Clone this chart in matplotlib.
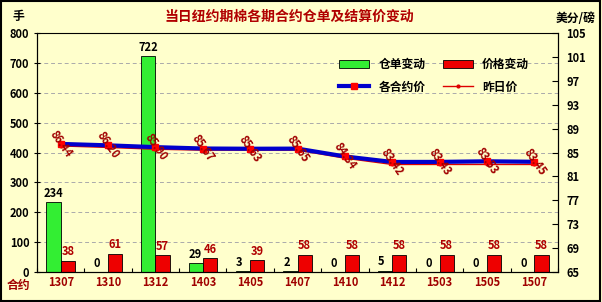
import matplotlib
matplotlib.use("Agg")
from matplotlib import pyplot as plt
import numpy as np

plt.rcParams['font.family'] = ['Noto Sans CJK SC', 'DejaVu Sans']
plt.rcParams['font.weight'] = 'bold'

# data
contracts = ['1307', '1310', '1312', '1403', '1405', '1407', '1410', '1412', '1503', '1505', '1507']
warrant_chg = [234, 0, 722, 29, 3, 2, 0, 5, 0, 0, 0]
price_chg = [38, 61, 57, 46, 39, 58, 58, 58, 58, 58, 58]
price_today = [86.44, 86.20, 85.90, 85.67, 85.63, 85.65, 84.34, 83.42, 83.43, 83.53, 83.45]
price_yday = [86.10, 85.85, 85.55, 85.40, 85.40, 85.40, 84.05, 83.00, 83.00, 83.00, 83.00]

bg = '#FFFFCC'
fig = plt.figure(figsize=(6.02, 3.02), dpi=100, facecolor=bg)
fig.patches.append(plt.Rectangle((0.002, 0.003), 0.995, 0.993, transform=fig.transFigure,
                                 fill=False, edgecolor='black', linewidth=1.5))
ax = fig.add_axes([0.0615, 0.0993, 0.8655, 0.7914], facecolor=bg)

x = np.arange(len(contracts))
w = 0.3
ax.bar(x - w/2, warrant_chg, w, color='#33EE33', edgecolor='black', linewidth=0.6, label='仓单变动', zorder=2)
ax.bar(x + w/2, price_chg, w, color='#EE0000', edgecolor='black', linewidth=0.6, label='价格变动', zorder=2)

for i in range(len(x)):
    ax.text(x[i] - w/2 - (0.08 if warrant_chg[i] < 10 else 0), warrant_chg[i] + 8, str(warrant_chg[i]),
            ha='center', va='bottom', fontsize=8, color='black', fontweight='bold')
    ax.text(x[i] + w/2, price_chg[i] + 8, str(price_chg[i]),
            ha='center', va='bottom', fontsize=8, color='#B00000', fontweight='bold')

ax.set_xlim(-0.5, len(x) - 0.5)
ax.set_ylim(0, 800)
ax.set_yticks(range(0, 801, 100))
ax.yaxis.grid(True, linestyle=(0, (4, 3)), color='#AAAAAA', linewidth=0.7)
ax.set_axisbelow(True)
ax.set_xticks(np.arange(-0.5, len(x), 1.0))
ax.set_xticklabels([])
ax.tick_params(axis='x', direction='in', length=3)
ax.tick_params(axis='y', direction='inout', length=5, labelsize=8, pad=3)
for lab in ax.get_yticklabels():
    lab.set_fontweight('bold')
for i, c in enumerate(contracts):
    ax.text(x[i], -14, c, transform=ax.transData, ha='center', va='top', fontsize=8,
            color='#A00000', fontweight='bold')
ax.spines['top'].set_color('#888888')
ax.spines['top'].set_linewidth(0.6)

ax2 = ax.twinx()
ax2.plot(x, price_yday, color='#DD0000', linewidth=1, marker='o', markersize=2, label='昨日价', zorder=3)
ax2.plot(x, price_today, color='#0000CC', linewidth=3, marker='s', markersize=4,
         markerfacecolor='#FF0000', markeredgecolor='#FF0000', label='各合约价', zorder=4)
for i in range(len(x)):
    ax2.text(x[i], price_today[i], '%.2f' % price_today[i], rotation=-55, ha='center', va='center',
             fontsize=8, color='#A00000', fontweight='bold', zorder=5)
ax2.set_ylim(65, 105)
ax2.set_yticks(range(65, 106, 4))
ax2.tick_params(axis='y', direction='in', length=4, labelsize=8, pad=6)
for lab in ax2.get_yticklabels():
    lab.set_fontweight('bold')

h1, l1 = ax.get_legend_handles_labels()
h2, l2 = ax2.get_legend_handles_labels()
handles = [h1[0], h2[1], h1[1], h2[0]]
labels = [l1[0], l2[1], l1[1], l2[0]]
ax2.legend(handles, labels, ncol=2, loc='upper left', bbox_to_anchor=(0.56, 0.94), frameon=False,
           fontsize=8.5, handlelength=2.5, columnspacing=1.5, labelspacing=0.8)

fig.text(0.48, 0.945, '当日纽约期棉各期合约仓单及结算价变动', ha='center', va='center',
         fontsize=10, color='#B00000', fontweight='bold')
fig.text(0.02, 0.945, '手', ha='left', va='center', fontsize=8.5, fontweight='bold')
fig.text(0.99, 0.94, '美分/磅', ha='right', va='center', fontsize=8.5, fontweight='bold')
fig.text(0.03, 0.055, '合约', ha='center', va='center', fontsize=8.5, color='#A00000', fontweight='bold')

fig.savefig('out.png', dpi=100, facecolor=bg)
